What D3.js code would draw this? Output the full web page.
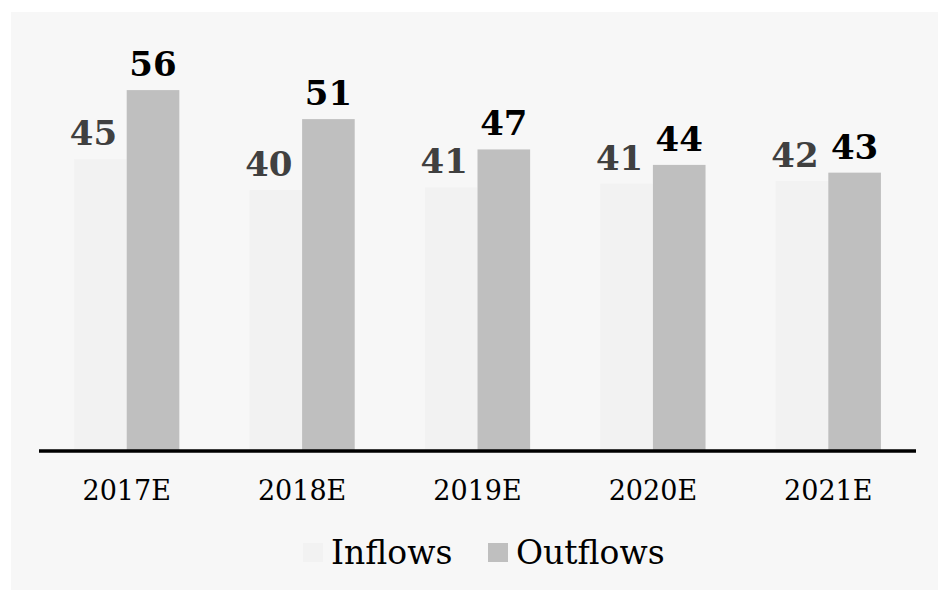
<!DOCTYPE html>
<html>
<head>
<meta charset="utf-8">
<script src="https://cdn.jsdelivr.net/npm/d3@7"></script>
<style>
  html, body { margin: 0; padding: 0; background: #ffffff; }
  svg { display: block; }
</style>
</head>
<body>
<svg id="chart" width="938" height="590"></svg>
<script>
const categories = ["2017E", "2018E", "2019E", "2020E", "2021E"];
const seriesNames = ["Inflows", "Outflows"];
const inflows = [45.1, 40.3, 40.7, 41.3, 41.7];
const outflows = [55.8, 51.3, 46.6, 44.2, 43.0];
const seriesColors = ["#f2f2f2", "#bfbfbf"];
const labelColors = ["#404040", "#000000"];

const W = 938, H = 590;
const svg = d3.select("#chart");
const font = "'DejaVu Serif', Georgia, serif";

// panel background
svg.append("rect").attr("x", 11).attr("y", 12).attr("width", W - 11).attr("height", H - 12).attr("fill", "#f7f7f7");

const x = d3.scaleBand().domain(categories).range([39, 916]).paddingInner(0.4).paddingOuter(0.2);
const xs = d3.scaleBand().domain(seriesNames).range([0, x.bandwidth()]).padding(0);
const y = d3.scaleLinear().domain([0, 60]).range([450, 63]);

const data = categories.map((c, i) => ({ cat: c, values: [inflows[i], outflows[i]] }));

const groups = svg.append("g").selectAll("g").data(data).join("g")
  .attr("transform", d => `translate(${x(d.cat)},0)`);

groups.selectAll("rect").data(d => d.values.map((v, j) => ({ v, j })))
  .join("rect")
  .attr("x", d => xs(seriesNames[d.j]))
  .attr("y", d => y(d.v))
  .attr("width", xs.bandwidth())
  .attr("height", d => y(0) - y(d.v))
  .attr("fill", d => seriesColors[d.j]);

const fmt = d3.format(".0f");
groups.selectAll("text").data(d => d.values.map((v, j) => ({ v, j })))
  .join("text")
  .attr("x", d => xs(seriesNames[d.j]) + xs.bandwidth() / 2 + (d.j === 0 ? -7 : 0))
  .attr("y", d => y(d.v) - 14)
  .attr("text-anchor", "middle")
  .attr("font-family", font)
  .attr("font-weight", "bold")
  .attr("font-size", 34)
  .attr("fill", d => labelColors[d.j])
  .text(d => fmt(d.v));

// x axis
const xAxis = svg.append("g").attr("transform", "translate(0,451)")
  .call(d3.axisBottom(x).tickSize(0).tickPadding(0));
xAxis.select(".domain").attr("stroke", "#000").attr("stroke-width", 3.5).attr("d", "M39,0H916");
xAxis.selectAll(".tick text")
  .attr("font-family", font)
  .attr("font-size", 27)
  .attr("fill", "#000")
  .attr("dy", 0)
  .attr("y", 49);

// legend
const legend = svg.append("g");
const legendItems = [{ name: seriesNames[0], x: 303, color: seriesColors[0] }, { name: seriesNames[1], x: 488, color: seriesColors[1] }];
legendItems.forEach(it => {
  legend.append("rect").attr("x", it.x).attr("y", 543).attr("width", 20).attr("height", 19).attr("fill", it.color);
  legend.append("text").attr("x", it.x + 28).attr("y", 564)
    .attr("font-family", font).attr("font-size", 33).attr("fill", "#000").text(it.name);
});
</script>
</body>
</html>
